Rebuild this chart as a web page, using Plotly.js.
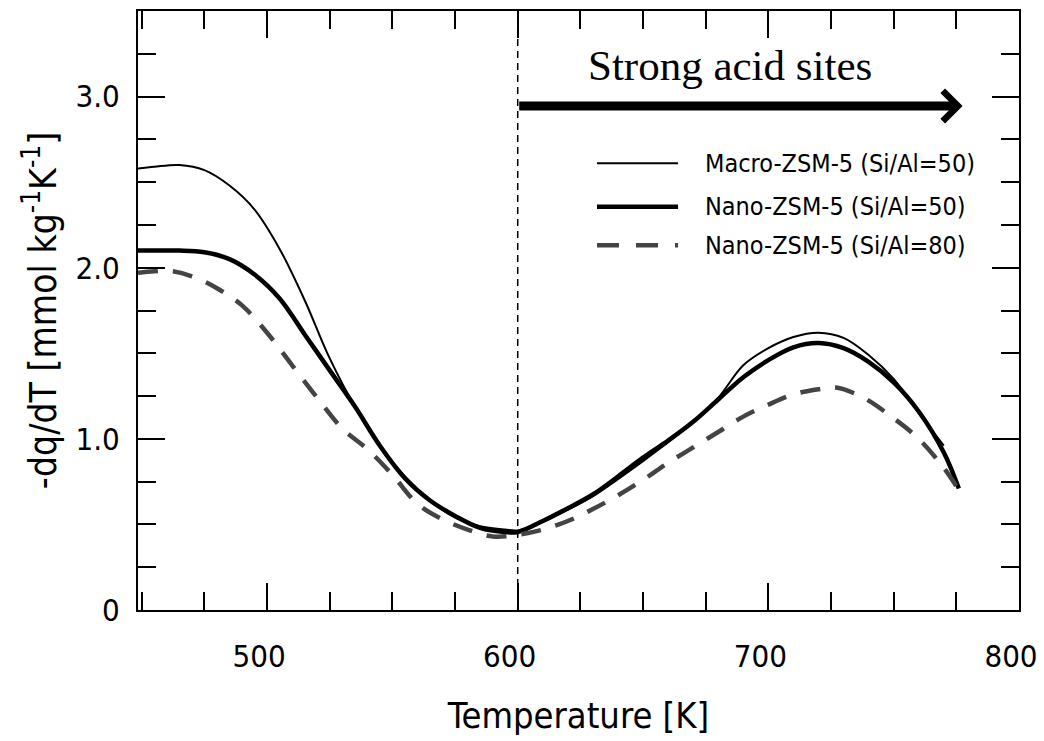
<!DOCTYPE html>
<html><head><meta charset="utf-8">
<script src="https://cdn.plot.ly/plotly-3.0.1.min.js"></script>
<style>html,body{margin:0;padding:0;background:#fff}</style>
</head><body><div id="chart" style="width:1044px;height:741px"></div>
<script>
const seriesNames = ['Macro-ZSM-5 (Si/Al=50)', 'Nano-ZSM-5 (Si/Al=50)', 'Nano-ZSM-5 (Si/Al=80)'];

const macroT = [448.5,455,465,475,485,495,505,515,525,535,545,555,565,575,585,595,600,610,620,630,640,650,660,670,680,690,700,710,720,730,740,750,760,770];
const macroY = [2.58,2.59,2.60,2.57,2.48,2.34,2.11,1.81,1.47,1.19,0.96,0.78,0.64,0.54,0.49,0.47,0.465,0.515,0.585,0.665,0.765,0.87,0.98,1.10,1.24,1.43,1.53,1.595,1.62,1.59,1.49,1.35,1.15,0.96];

const nano50T = [448.5,455,465,475,485,495,505,515,525,535,545,555,565,575,585,595,600,610,620,630,640,650,660,670,680,690,700,710,720,730,740,750,760,770,776];
const nano50Y = [2.10,2.10,2.10,2.09,2.05,1.96,1.82,1.61,1.40,1.19,0.96,0.77,0.64,0.55,0.48,0.455,0.455,0.52,0.595,0.675,0.78,0.89,0.99,1.10,1.23,1.36,1.46,1.535,1.56,1.53,1.45,1.33,1.16,0.92,0.71];

const nano80T = [448.5,455,462,470,480,490,500,510,520,530,540,550,560,570,580,590,600,610,620,630,640,650,660,670,680,690,700,710,720,727,738,750,760,770,776];
const nano80Y = [1.97,1.98,1.98,1.95,1.88,1.78,1.62,1.43,1.24,1.06,0.94,0.79,0.62,0.53,0.47,0.43,0.44,0.47,0.52,0.59,0.67,0.76,0.86,0.95,1.04,1.13,1.20,1.26,1.29,1.30,1.24,1.12,1.00,0.83,0.70];

const xTickVals = [500,600,700,800];
const xTickText = ['500','600','700','800'];
const xMidTicks = [550,650,750];
const yTickVals = [0,1,2,3];
const yTickText = ['0','1.0','2.0','3.0'];
const yMidTicks = [0.5,1.5,2.5];

const xRange = [448.5, 800];
const yRange = [0, 3.5];

const boundaryT = 600;
const arrowEndT = 777.5;
const arrowLevel = 2.945;
const regionLabel = 'Strong acid sites';
const regionLabelT = 684.5;
const regionLabelY = 3.18;

const sansFont = '"Liberation Sans Narrow", "Arial Narrow", "DejaVu Sans Condensed", sans-serif';
const seriesStyles = [
  {color: '#000000', width: 2, dash: 'solid'},
  {color: '#000000', width: 4.5, dash: 'solid'},
  {color: '#444444', width: 4.5, dash: '20px,15px'}
];
const seriesT = [macroT, nano50T, nano80T];
const seriesY = [macroY, nano50Y, nano80Y];

const traces = seriesNames.map((name, i) => ({
  type: 'scatter', mode: 'lines', name: name,
  x: seriesT[i], y: seriesY[i],
  line: {color: seriesStyles[i].color, width: seriesStyles[i].width, dash: seriesStyles[i].dash, shape: 'spline', smoothing: 1},
  showlegend: false, hoverinfo: 'skip'
}));

// custom legend (paper coordinates)
const legendRows = [0.746, 0.673, 0.609];
const legendX0 = 0.521, legendX1 = 0.613, legendTextX = 0.641;
const legendShapes = seriesNames.map((n, i) => ({
  type: 'line', xref: 'paper', yref: 'paper',
  x0: legendX0, x1: legendX1, y0: legendRows[i], y1: legendRows[i],
  line: {color: seriesStyles[i].color, width: seriesStyles[i].width, dash: i === 2 ? '22px,17px' : 'solid'}
}));
const legendTexts = seriesNames.map((n, i) => ({
  xref: 'paper', yref: 'paper', x: legendTextX, y: legendRows[i],
  xanchor: 'left', yanchor: 'middle', text: n, showarrow: false,
  font: {family: sansFont, size: 25, color: '#000'}
}));

const axisCommon = {
  showgrid: false, zeroline: false, showline: true, linecolor: '#000', linewidth: 2,
  mirror: 'ticks', ticks: 'inside', ticklen: 27, tickwidth: 2, tickcolor: '#000',
  tickmode: 'array', ticklabeloverflow: 'allow',
  tickfont: {family: sansFont, size: 31, color: '#000'}
};

const layout = {
  width: 1044, height: 741,
  margin: {l: 138, r: 25, t: 11, b: 131},
  paper_bgcolor: '#fff', plot_bgcolor: '#fff',
  showlegend: false,
  xaxis: Object.assign({}, axisCommon, {
    range: xRange, tickvals: xTickVals, ticktext: xTickText,
    ticklabelstandoff: 18, ticklabelshift: -8,
    minor: {dtick: 25, tick0: 450, ticks: 'inside', ticklen: 18, tickwidth: 2, tickcolor: '#000'},
    title: {text: 'Temperature [K]', font: {family: sansFont, size: 36, color: '#000'}, standoff: 30}
  }),
  xaxis2: Object.assign({}, axisCommon, {
    overlaying: 'x', anchor: 'y', side: 'bottom', range: xRange,
    tickvals: xMidTicks, showticklabels: false
  }),
  yaxis: Object.assign({}, axisCommon, {
    range: yRange, tickvals: yTickVals, ticktext: yTickText,
    ticklabelstandoff: 10,
    minor: {dtick: 0.25, tick0: 0, ticks: 'inside', ticklen: 18, tickwidth: 2, tickcolor: '#000'},
    title: {text: '-dq/dT [mmol kg<sup>-1</sup>K<sup>-1</sup>]', font: {family: sansFont, size: 37, color: '#000'}, standoff: 8}
  }),
  yaxis2: Object.assign({}, axisCommon, {
    overlaying: 'y', anchor: 'x', side: 'left', range: yRange,
    tickvals: yMidTicks, showticklabels: false
  }),
  shapes: [
    {type: 'line', xref: 'x', yref: 'paper', x0: boundaryT, x1: boundaryT, y0: 0, y1: 1,
     line: {color: '#000', width: 1.5, dash: '7px,5px'}}
  ].concat(legendShapes),
  annotations: [
    {xref: 'x', yref: 'y', axref: 'x', ayref: 'y', x: arrowEndT, y: arrowLevel, ax: boundaryT, ay: arrowLevel,
     text: '', showarrow: true, arrowhead: 4, arrowsize: 0.65, arrowwidth: 9, arrowcolor: '#000'},
    {xref: 'x', yref: 'y', x: regionLabelT, y: regionLabelY, text: regionLabel, showarrow: false,
     xanchor: 'center', yanchor: 'middle', font: {family: '"Liberation Serif", "Times New Roman", serif', size: 43, color: '#000'}}
  ].concat(legendTexts)
};

Plotly.newPlot('chart', traces, layout, {displayModeBar: false, staticPlot: true});
</script></body></html>
